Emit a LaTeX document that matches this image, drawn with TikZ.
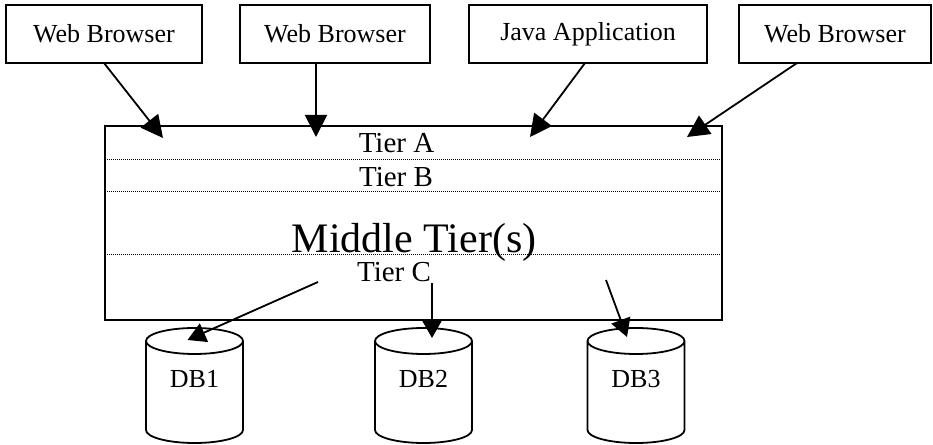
\documentclass[tikz,border=0pt]{standalone}
\usepackage{fontspec}
\setmainfont{Liberation Serif}
\usetikzlibrary{arrows.meta,calc}
\begin{document}
\begin{tikzpicture}[x=1pt,y=1pt,
  client/.style={draw,line width=1.9pt,minimum height=58pt,inner sep=0pt,outer sep=0pt,font=\fontsize{26}{30}\selectfont},
  tierbox/.style={draw,line width=1.9pt,minimum width=617pt,minimum height=194pt,inner sep=0pt,outer sep=0pt},
  tierlabel/.style={anchor=base,inner sep=0pt,font=\fontsize{29}{34}\selectfont},
  biglabel/.style={anchor=base,inner sep=0pt,font=\fontsize{42}{48}\selectfont},
  divider/.style={line width=1pt,dash pattern=on 1pt off 1pt},
  db/.style={minimum width=97pt,minimum height=115pt,inner sep=0pt,outer sep=0pt,text depth=13pt,font=\fontsize{26}{30}\selectfont},
  dbline/.style={line width=1.8pt,line join=round},
  link/.style={line width=1.8pt,-{Triangle[length=22pt,width=22pt]}},
  dblink/.style={line width=1.8pt,-{Triangle[length=18pt,width=20pt]}},
]
\useasboundingbox (0,0) rectangle (933,444);

% clients
\node[client,minimum width=196pt] (b1) at (104,410) {Web Browser};
\node[client,minimum width=190pt] (b2) at (335,410) {Web Browser};
\node[client,minimum width=238pt] (b3) at (588,410) {Java Application};
\node[client,minimum width=192pt] (b4) at (835,410) {Web Browser};

% middle tier box with its layers
\node[tierbox] (mid) at (413.5,221) {};
\draw[divider] ([yshift=-34pt]mid.north west) -- ([yshift=-34pt]mid.north east);
\draw[divider] ([yshift=-66pt]mid.north west) -- ([yshift=-66pt]mid.north east);
\draw[divider] ([yshift=-129pt]mid.north west) -- ([yshift=-129pt]mid.north east);

\node[tierlabel] (ta) at (396.5,291) {Tier A};
\node[tierlabel] (tb) at (396,257) {Tier B};
\node[biglabel] (mt) at (414,191) {Middle Tier(s)};
\node[tierlabel] (tc) at (394,162) {Tier C};

% databases
\node[db] (db1) at (194.5,58.5) {DB1};
\node[db] (db2) at (423.5,58.5) {DB2};
\node[db] (db3) at (636,58.5) {DB3};
\foreach \n in {db1,db2,db3}{
  \draw[dbline] ([yshift=-13pt]\n.north west) -- ([yshift=13pt]\n.south west)
    arc[start angle=180,end angle=360,x radius=48.5pt,y radius=13pt]
    -- ([yshift=-13pt]\n.north east)
    arc[start angle=0,end angle=360,x radius=48.5pt,y radius=13pt];
}

% arrow end points inside the middle tier
\coordinate (t1) at (163,306);
\coordinate (t2) at (316,307);
\coordinate (t3) at (530,307);
\coordinate (t4) at (687,307);
\coordinate (s1) at (318,162);
\coordinate (s2) at (432,161);
\coordinate (s3) at (606,164);

% client requests
\draw[link] (b1.south) -- (t1);
\draw[link] (b2.south -| t2) -- (t2);
\draw[link] ([xshift=-3pt]b3.south) -- (t3);
\draw[link] ([xshift=-38pt]b4.south) -- (t4);

% database access
\draw[dblink] (s1) -- ([xshift=-7pt,yshift=-12pt]db1.north);
\draw[dblink] (s2) -- ([xshift=8.5pt,yshift=-10pt]db2.north);
\draw[dblink] (s3) -- ([xshift=-9pt,yshift=-9pt]db3.north);
\end{tikzpicture}
\end{document}
